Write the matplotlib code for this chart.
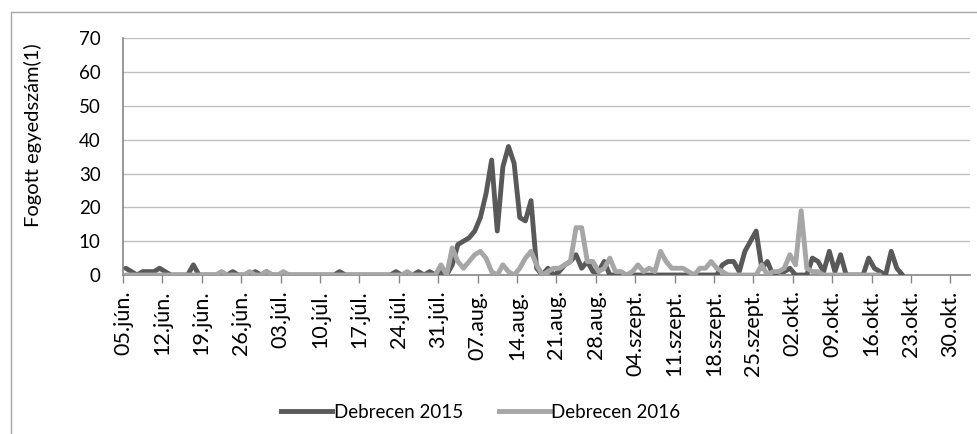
import numpy as np
import matplotlib.pyplot as plt
from matplotlib.lines import Line2D

# weekly tick labels, first one is day 0
tick_labels = ['05.jún.', '12.jún.', '19.jún.', '26.jún.', '03.júl.', '10.júl.',
               '17.júl.', '24.júl.', '31.júl.', '07.aug.', '14.aug.', '21.aug.',
               '28.aug.', '04.szept.', '11.szept.', '18.szept.', '25.szept.',
               '02.okt.', '09.okt.', '16.okt.', '23.okt.', '30.okt.']

# daily catches, starting 05.jún. (one row per week)
debrecen_2015 = [
    2, 1, 0, 1, 1, 1, 2,
    1, 0, 0, 0, 0, 3, 0,
    0, 0, 0, 0, 0, 1, 0,
    0, 0, 1, 0, 1, 0, 0,
    0, 0, 0, 0, 0, 0, 0,
    0, 0, 0, 1, 0, 0, 0,
    0, 0, 0, 0, 0, 0, 1,
    0, 0, 0, 1, 0, 1, 0,
    1, 0, 3, 9, 10, 11, 13,
    17, 24, 34, 13, 32, 38, 33,
    17, 16, 22, 2, 0, 2, 0,
    1, 3, 4, 6, 2, 4, 1,
    1, 4, 0, 0, 0, 0, 0,
    0, 0, 0, 0, 0, 0, 0,
    0, 0, 0, 0, 0, 0, 0,
    0, 3, 4, 4, 1, 7, 10,
    13, 2, 4, 0, 1, 1, 2,
    0, 0, 0, 5, 4, 1, 7,
    1, 6, 0, 0, 0, 0, 5,
    2, 1, 0, 7, 2, 0,
]

debrecen_2016 = [
    0, 0, 0, 0, 0, 0, 0,
    0, 0, 0, 0, 0, 0, 0,
    0, 0, 0, 1, 0, 0, 0,
    0, 1, 0, 0, 1, 0, 0,
    1, 0, 0, 0, 0, 0, 0,
    0, 0, 0, 0, 0, 0, 0,
    0, 0, 0, 0, 0, 0, 0,
    0, 1, 0, 0, 0, 0, 0,
    3, 0, 8, 4, 2, 4, 6,
    7, 5, 1, 0, 3, 1, 0,
    2, 5, 7, 3, 0, 1, 2,
    2, 3, 4, 14, 14, 4, 4,
    1, 2, 5, 1, 1, 0, 1,
    3, 1, 2, 1, 7, 4, 2,
    2, 2, 1, 0, 2, 2, 4,
    2, 1, 0, 0, 0, 0, 0,
    0, 3, 0, 1, 1, 2, 6,
    3, 19, 2, 1, 1, 0, 0,
    0, 0, 0, 0, 0, 0, 0,
    0, 0,
]

plt.rcParams['font.family'] = ['Lato', 'DejaVu Sans']

fig = plt.figure(figsize=(9.78, 4.34), dpi=100)
ax = fig.add_axes([123 / 978, 159 / 434, 847 / 978, 236.7 / 434])

# points sit in the middle of each day slot
x15 = np.arange(len(debrecen_2015)) + 0.5
x16 = np.arange(len(debrecen_2016)) + 0.5
ax.plot(x15, debrecen_2015, color='#595959', lw=3.5, solid_joinstyle='round',
        solid_capstyle='round', zorder=3)
ax.plot(x16, debrecen_2016, color='#a6a6a6', lw=3.5, solid_joinstyle='round',
        solid_capstyle='round', zorder=4)

ax.set_xlim(0, 150.5)
ax.set_ylim(0, 70)
ax.set_yticks(range(0, 71, 10))
ax.set_xticks(np.arange(0, 7 * len(tick_labels), 7))
ax.set_xticklabels(tick_labels, rotation=90)

ax.grid(axis='y', color='#bfbfbf', lw=1)
ax.set_axisbelow(True)
for s in ['top', 'right']:
    ax.spines[s].set_visible(False)
for s in ['left', 'bottom']:
    ax.spines[s].set_color('#868686')
    ax.spines[s].set_linewidth(1.2)

ax.tick_params(axis='y', length=0, pad=16, labelsize=13.5, colors='black')
ax.tick_params(axis='x', length=6, width=1, color='#868686', pad=5,
               labelsize=15.5, labelcolor='black')

fig.text(33 / 978, 1 - 135 / 434, 'Fogott egyedszám(1)', rotation=90,
         ha='center', va='center', fontsize=14.5)

handles = [Line2D([], [], color='#595959', lw=3.5),
           Line2D([], [], color='#a6a6a6', lw=3.5)]
fig.legend(handles, ['Debrecen 2015', 'Debrecen 2016'], loc='center',
           bbox_to_anchor=(481 / 978, 1 - 412 / 434), ncol=2, frameon=False,
           fontsize=13.5, handlelength=2.7, handletextpad=0.1,
           columnspacing=1.9)

# chart area border (cut off at the bottom)
fig.add_artist(Line2D([10.5 / 978, 10.5 / 978], [0, 1 - 12 / 434],
                      transform=fig.transFigure, color='#a6a6a6', lw=1))
fig.add_artist(Line2D([10.5 / 978, 1], [1 - 12 / 434, 1 - 12 / 434],
                      transform=fig.transFigure, color='#a6a6a6', lw=1))

fig.savefig('out.png', dpi=100)
